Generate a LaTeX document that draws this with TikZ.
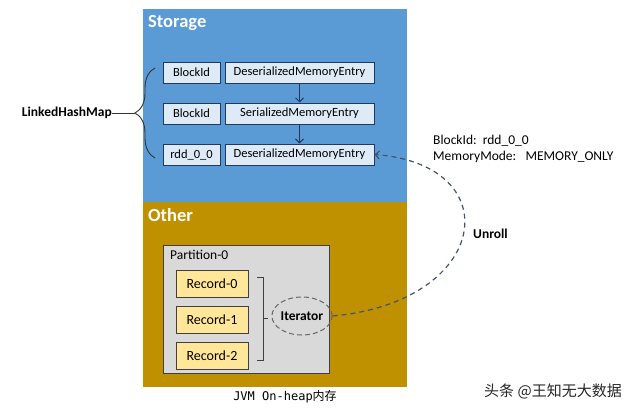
\documentclass[tikz,border=0pt]{standalone}
\usepackage{fontspec}
\setmainfont{Carlito}
\newfontfamily\monofont{DejaVu Sans Mono}
\newfontfamily\cjk{Noto Sans CJK SC}
\usetikzlibrary{positioning,decorations.pathreplacing,shapes.geometric,arrows.meta}

\definecolor{storeblue}{RGB}{91,155,213}
\definecolor{othergold}{RGB}{191,144,0}
\definecolor{entryfill}{RGB}{222,235,247}
\definecolor{entryline}{RGB}{31,56,100}
\definecolor{recfill}{RGB}{255,230,153}
\definecolor{partfill}{RGB}{217,217,217}
\definecolor{dashgray}{RGB}{68,84,106}

\begin{document}
\begin{tikzpicture}[x=1pt, y=-1pt, >={Straight Barb[length=4pt,width=8pt]},
    entry/.style={draw=entryline, fill=entryfill, line width=1pt, minimum height=21pt, inner sep=0pt, font=\fontsize{12.5}{14}\selectfont},
    rec/.style={draw=black!75, fill=recfill, line width=1pt, minimum width=72pt, minimum height=27pt, inner sep=0pt, font=\fontsize{14}{16}\selectfont},
    title/.style={text=white, font=\bfseries\fontsize{18.5}{20}\selectfont, anchor=north west, inner sep=0pt},
    plain/.style={font=\fontsize{13.5}{15}\selectfont, inner sep=0pt}]
    \useasboundingbox (0,0) rectangle (640,410);

    % regions
    \fill[storeblue] (143,9) rectangle (407,202);
    \fill[othergold] (143,202) rectangle (407,387);
    \node[title] (storage) at (148,15) {Storage};
    \node[title] (other) at (148,208) {Other};

    % map entries
    \node[entry, minimum width=57pt] (bid1) at (191.5,72.5) {BlockId};
    \node[entry, minimum width=149pt, right=4pt of bid1] (ent1) {DeserializedMemoryEntry};
    \node[entry, minimum width=57pt, below=19pt of bid1] (bid2) {BlockId};
    \node[entry, minimum width=149pt, right=4pt of bid2] (ent2) {SerializedMemoryEntry};
    \node[entry, minimum width=57pt, below=19pt of bid2] (bid3) {rdd\_0\_0};
    \node[entry, minimum width=149pt, right=4pt of bid3] (ent3) {DeserializedMemoryEntry};

    \draw[->, entryline, line width=0.9pt] (ent1) -- (ent2);
    \draw[->, entryline, line width=0.9pt] (ent2) -- (ent3);

    % linked hash map brace
    \coordinate (brtop) at (155,68);
    \coordinate (brbot) at (155,158);
    \coordinate (brtip) at (135,113);
    \draw[decorate, decoration={brace, amplitude=20pt}, black!80, line width=0.9pt] (brbot) -- (brtop);
    \node[font=\bfseries\fontsize{13.5}{15}\selectfont, anchor=east, inner sep=0pt] (lhm) at (112,113) {LinkedHashMap};
    \draw[black!80, line width=0.9pt] (lhm.east) -- (brtip);

    % partition
    \draw[fill=partfill, draw=black!75, line width=1pt] (163,245) rectangle (329,373);
    \node[plain, anchor=north west] (part) at (170,250) {Partition-0};
    \node[rec] (rec0) at (212,283.5) {Record-0};
    \node[rec, below=8pt of rec0] (rec1) {Record-1};
    \node[rec, below=8pt of rec1] (rec2) {Record-2};

    \coordinate (bktop) at (257,277);
    \coordinate (bkbot) at (257,360);
    \coordinate (bkmid) at (263,318);
    \draw[black!75, line width=0.9pt] (bktop) -- ++(6,0) |- (bkbot);
    \node[draw=black!60, dash pattern=on 5pt off 3pt, line width=1pt, ellipse, minimum width=59pt, minimum height=38pt, inner sep=0pt, font=\bfseries\fontsize{13.5}{15}\selectfont] (iter) at (302,316) {Iterator};
    \draw[black!75, line width=0.9pt] (bkmid) -- (268,318);

    % unroll
    \draw[->, dashgray, dash pattern=on 5pt off 4pt, line width=1.2pt] (iter.east) .. controls (490,302) and (510,165) .. (ent3.east);
    \node[font=\bfseries\fontsize{13.5}{15}\selectfont, anchor=west, inner sep=0pt] (unroll) at (473,234) {Unroll};
    \node[plain, anchor=north west, align=left] (info) at (433,135) {BlockId:\ \ rdd\_0\_0\\[1pt]MemoryMode:\ \ \ MEMORY\_ONLY};

    \node[inner sep=0pt, font=\fontsize{12}{14}\selectfont] (jvm) at (285,397) {{\monofont JVM On-heap}{\cjk 内存}};
    \node[inner sep=0pt, text=black!85, font=\fontsize{15}{17}\selectfont] (mark) at (553,391) {{\cjk 头条 @王知无大数据}};
\end{tikzpicture}
\end{document}
